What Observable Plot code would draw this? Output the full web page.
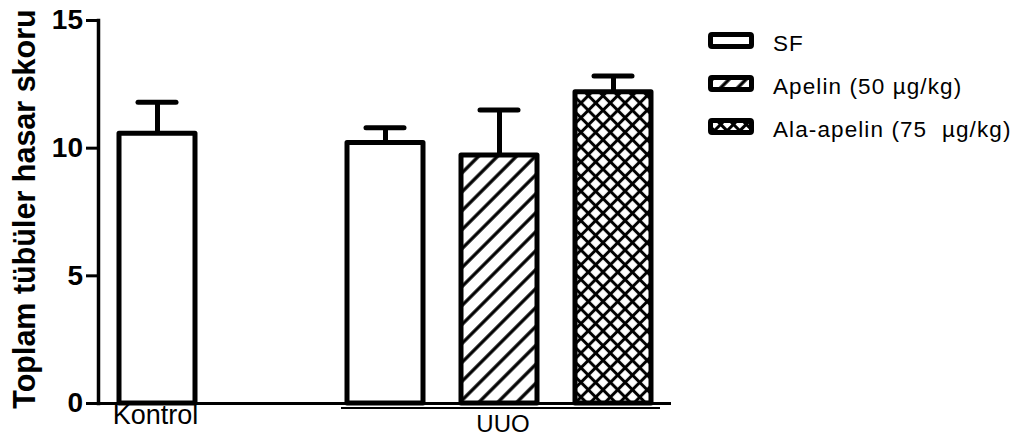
<!DOCTYPE html>
<html>
<head>
<meta charset="utf-8">
<script src="https://cdn.jsdelivr.net/npm/d3@7"></script>
<script src="https://cdn.jsdelivr.net/npm/@observablehq/plot@0.6"></script>
<style>
  body { margin: 0; background: #fff; }
  #chart { position: relative; width: 1018px; height: 439px; font-family: "Liberation Sans", Arial, Helvetica, sans-serif; }
  #chart > svg { display: block; }
  #legend { position: absolute; left: 708px; top: 19px; }
  #legend .row { display: flex; align-items: center; height: 43px; }
  #legend .row svg { display: block; flex: none; }
  #legend .row span { margin-left: 19px; font-size: 22.5px; letter-spacing: 1.1px; white-space: pre; color: #000; position: relative; top: 3px; }
</style>
</head>
<body>
<div id="chart"></div>
<script>
// Tubular damage score per group (mean with SEM)
const barKeys = ["Kontrol", "SF", "Apelin", "Ala-apelin"];
const groups = ["Kontrol", "UUO", "UUO", "UUO"];
const means = [10.56, 10.2, 9.71, 12.19];
const sems = [1.24, 0.6, 1.78, 0.64];
const legendKeys = ["SF", "Apelin", "Ala-apelin"];
const legendLabels = ["SF", "Apelin (50 µg/kg)", "Ala-apelin (75  µg/kg)"];
const yTicks = [0, 5, 10, 15];
const yTitle = "Toplam tübüler hasar skoru";
const gapKey = " "; // empty slot between the control and the UUO bars

const rows = barKeys.map((key, i) => ({key, group: groups[i], mean: means[i], upper: means[i] + sems[i]}));
const uuoKeys = rows.filter(d => d.group === "UUO").map(d => d.key);
const groupLabels = [{label: "UUO", first: uuoKeys[0], last: uuoKeys[uuoKeys.length - 1], mid: uuoKeys[1]}];

// fill for each treatment
const fillOf = {"Kontrol": "white", "SF": "white", "Apelin": "url(#hatch-apelin)", "Ala-apelin": "url(#hatch-ala)"};

// hatch patterns for the bars
function hatchDefs(prefix, diag, cross) {
  const defs = d3.create("svg:defs");
  const a = defs.append("pattern").attr("id", prefix + "apelin")
    .attr("patternUnits", "userSpaceOnUse").attr("width", diag).attr("height", diag)
    .attr("patternTransform", "rotate(45)");
  a.append("rect").attr("width", diag).attr("height", diag).attr("fill", "white");
  a.append("line").attr("x1", diag / 2).attr("x2", diag / 2).attr("y1", 0).attr("y2", diag)
    .attr("stroke", "black").attr("stroke-width", 3.3);
  const c = defs.append("pattern").attr("id", prefix + "ala")
    .attr("patternUnits", "userSpaceOnUse").attr("width", cross).attr("height", cross)
    .attr("patternTransform", "rotate(45)");
  c.append("rect").attr("width", cross).attr("height", cross).attr("fill", "white");
  c.append("line").attr("x1", cross / 2).attr("x2", cross / 2).attr("y1", 0).attr("y2", cross)
    .attr("stroke", "black").attr("stroke-width", 3);
  c.append("line").attr("y1", cross / 2).attr("y2", cross / 2).attr("x1", 0).attr("x2", cross)
    .attr("stroke", "black").attr("stroke-width", 3);
  return defs.node();
}

const chart = Plot.plot({
  width: 1018,
  height: 439,
  marginTop: 20,
  marginBottom: 36,
  marginLeft: 98,
  marginRight: 347,
  style: {fontFamily: "'Liberation Sans', Arial, Helvetica, sans-serif", color: "black", background: "white"},
  x: {type: "band", domain: [barKeys[0], gapKey, ...barKeys.slice(1)], paddingInner: 0.336, paddingOuter: 0.17, axis: null},
  y: {domain: [0, 15], axis: null},
  marks: [
    () => hatchDefs("hatch-", 13.4, 10.4),
    Plot.barY(rows, {x: "key", y: "mean", fill: d => fillOf[d.key], stroke: "black", strokeWidth: 5, strokeLinejoin: "round", inset: 0}),
    Plot.ruleX(rows, {x: "key", y1: "mean", y2: "upper", stroke: "black", strokeWidth: 5}),
    Plot.tickY(rows, {x: "key", y: "upper", stroke: "black", strokeWidth: 5, strokeLinecap: "round", insetLeft: 19, insetRight: 19}),
    // y axis: tick marks, tick labels and the axis line
    Plot.axisY({ticks: yTicks, tickSize: 12, text: null, strokeWidth: 3, label: null}),
    Plot.text(yTicks, {y: d => d, frameAnchor: "left", textAnchor: "end", dx: -15.5, fontSize: 28, fontWeight: "bold", fill: "black"}),
    Plot.frame({anchor: "left", stroke: "black", strokeWidth: 3.5}),
    Plot.ruleY([0], {stroke: "black", strokeWidth: 3}),
    // category label under the control bar
    Plot.text(["Kontrol"], {x: d => d, y: () => 0, lineAnchor: "top", dy: 1, dx: -2, fontSize: 27, fill: "black"}),
    // bracket and label for the UUO group
    Plot.ruleY(groupLabels, {x1: "first", x2: "last", y: () => 0, dy: 4.5, insetLeft: -6, insetRight: -9, stroke: "black", strokeWidth: 2}),
    Plot.text(groupLabels, {x: "mid", y: () => 0, text: "label", lineAnchor: "top", dy: 11, dx: 3.5, fontSize: 24, fill: "black"}),
    // y axis title
    Plot.text([yTitle], {frameAnchor: "left", textAnchor: "middle", rotate: -90, dx: -73, dy: -3, fontSize: 30.5, fontWeight: "bold", fill: "black"})
  ]
});

const host = document.getElementById("chart");
host.append(chart);

// legend on the right
const legendFill = {"SF": "white", "Apelin": "url(#key-apelin)", "Ala-apelin": "url(#key-ala)"};
const legend = d3.select(host).append("div").attr("id", "legend");
legendKeys.forEach((key, i) => {
  const row = legend.append("div").attr("class", "row");
  const sw = row.append("svg").attr("width", 46).attr("height", 17);
  if (i === 0) sw.node().append(hatchDefs("key-", 12, 9));
  sw.append("rect").attr("x", 2.5).attr("y", 2.5).attr("width", 41).attr("height", 12).attr("rx", 1.5)
    .attr("fill", legendFill[key]).attr("stroke", "black").attr("stroke-width", 5);
  row.append("span").text(legendLabels[i]);
});
</script>
</body>
</html>
